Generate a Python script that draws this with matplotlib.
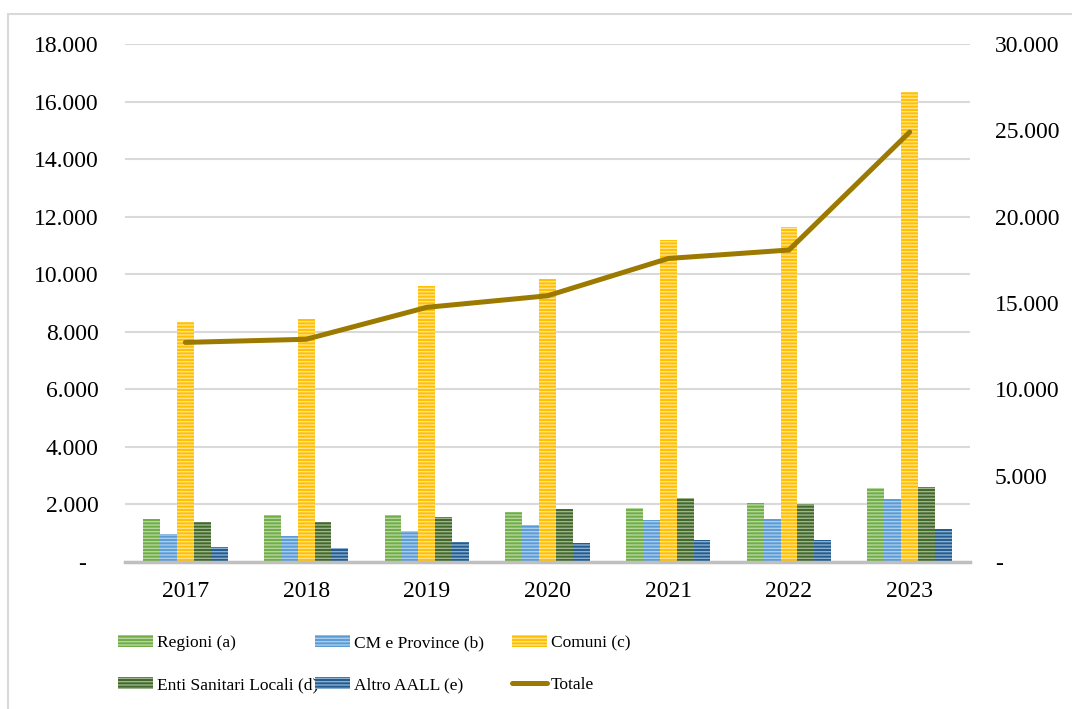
import matplotlib.pyplot as plt
import numpy as np
from matplotlib.ticker import FuncFormatter
from matplotlib.patches import Rectangle

plt.rcParams['font.family'] = ['Liberation Serif', 'DejaVu Serif']
plt.rcParams['hatch.linewidth'] = 1.0

# dati
anni = ['2017', '2018', '2019', '2020', '2021', '2022', '2023']
regioni = [1480, 1620, 1650, 1730, 1890, 2050, 2560]
cm_province = [960, 890, 1090, 1290, 1460, 1490, 2190]
comuni = [8330, 8430, 9590, 9820, 11190, 11650, 16340]
enti_sanitari = [1400, 1400, 1550, 1850, 2210, 2020, 2600]
altro_aall = [510, 500, 690, 650, 760, 780, 1140]
totale = [12720, 12900, 14750, 15420, 17580, 18070, 24900]

serie = [
    ('Regioni (a)', regioni, '#70AD47', '#B5D69F'),
    ('CM e Province (b)', cm_province, '#5B9BD5', '#A9CDEC'),
    ('Comuni (c)', comuni, '#FFC000', '#FFE28A'),
    ('Enti Sanitari Locali (d)', enti_sanitari, '#41672A', '#9DB48E'),
    ('Altro AALL (e)', altro_aall, '#245B8E', '#8AAFD0'),
]

def fmt(v, pos):
    if v == 0:
        return '-'
    return f'{int(v):,}'.replace(',', '.')

fig = plt.figure(figsize=(10.72, 7.09), dpi=100)
ax = fig.add_axes([0.1166, 0.2073, 0.7883, 0.7306])
fig.patches.append(Rectangle((8 / 1072, -0.1), 1.2, 1 - 14 / 709 + 0.1, transform=fig.transFigure,
                             fill=False, edgecolor='#D9D9D9', linewidth=1.5))

x = np.arange(len(anni))
w = 0.14
handles = []
for i, (nome, vals, col, hcol) in enumerate(serie):
    b = ax.bar(x + (i - 2) * w, vals, w, color=col, edgecolor=hcol, linewidth=0,
               hatch='-----', label=nome, zorder=2)
    handles.append(b)

ax.set_xlim(-0.5, 6.5)
ax.set_ylim(0, 18000)
ax.set_yticks(np.arange(0, 18001, 2000))
ax.yaxis.set_major_formatter(FuncFormatter(lambda v, p: '-  ' if v == 0 else fmt(v, p)))
ax.set_xticks(x)
ax.set_xticklabels(anni)
ax.grid(axis='y', color='#D9D9D9', linewidth=1.5, zorder=0)
ax.set_axisbelow(True)
for s in ['top', 'left', 'right']:
    ax.spines[s].set_visible(False)
ax.spines['bottom'].set_color('#BFBFBF')
ax.spines['bottom'].set_linewidth(2.5)
ax.tick_params(axis='both', length=0, labelsize=17, colors='black')
ax.tick_params(axis='y', pad=19)
ax.tick_params(axis='x', pad=14)

ax2 = ax.twinx()
linea, = ax2.plot(x, totale, color='#9C7A00', linewidth=3.6, solid_capstyle='round',
                  solid_joinstyle='miter', label='Totale', zorder=3)
ax2.set_ylim(0, 30000)
ax2.set_yticks(np.arange(0, 30001, 5000))
ax2.yaxis.set_major_formatter(FuncFormatter(fmt))
for s in ax2.spines.values():
    s.set_visible(False)
ax2.tick_params(axis='y', length=0, labelsize=17, pad=18)

# legenda su tre colonne, righe come in Excel
colonne = [
    ([handles[0], handles[3]], 118 / 1072),
    ([handles[1], handles[4]], 315 / 1072),
    ([handles[2], linea], 512 / 1072),
]
for hs, xpos in colonne:
    leg = fig.legend(handles=hs, labels=[h.get_label() for h in hs], loc='upper left',
                     bbox_to_anchor=(xpos, 1 - 635 / 709), frameon=False, fontsize=12.5,
                     handlelength=2.0, handleheight=0.7, handletextpad=0.23,
                     labelspacing=1.5, borderaxespad=0, borderpad=0)

fig.savefig('out.png', dpi=100)
